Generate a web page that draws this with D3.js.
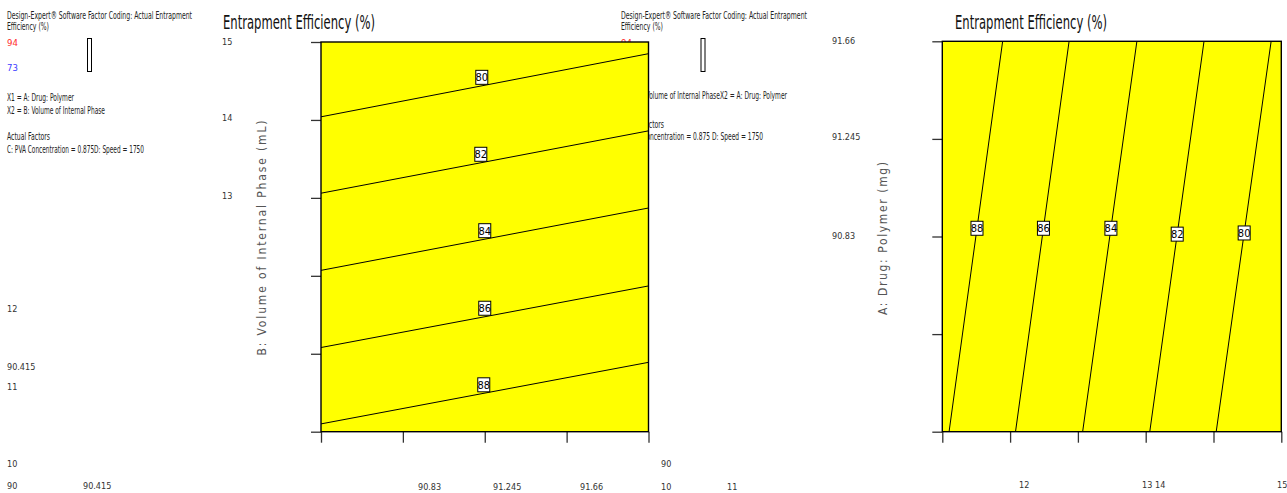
<!DOCTYPE html>
<html>
<head>
<meta charset="utf-8">
<script src="https://cdn.jsdelivr.net/npm/d3@7"></script>
<style>
body { margin: 0; background: #fff; }
svg { display: block; }
text { font-family: "Liberation Sans Narrow", "Arial Narrow", "DejaVu Sans Condensed", sans-serif; }
</style>
</head>
<body>
<div id="chart"></div>
<script>
// contour levels of Entrapment Efficiency (%), each a straight line
const levels = [80, 82, 84, 86, 88];
const volAtDrugMin = [14.04, 13.06, 12.07, 11.08, 10.10];
const volAtDrugMax = [14.85, 13.86, 12.87, 11.87, 10.89];
const labelDrugLeft = [90.815, 90.81, 90.83, 90.83, 90.825];
const labelDrugRight = [90.845, 90.84, 90.865, 90.865, 90.865];

const drugRange = [90, 91.66];
const volRange = [10, 15];
const drugTicks = [90, 90.415, 90.83, 91.245, 91.66];
const volTicks = [10, 11, 12, 13, 14, 15];

const title = 'Entrapment  Efficiency (%)';
const volLabel = 'B: Volume of Internal Phase (mL)';
const drugLabel = 'A: Drug: Polymer (mg)';

// header text blocks (as the exported page prints them)
const blockLeft = [
    'Design-Expert® Software Factor Coding:  Actual  Entrapment',
    'Efficiency (%)',
    '94', '73',
    'X1 = A: Drug: Polymer',
    'X2 = B: Volume of Internal Phase',
    'Actual Factors',
    'C: PVA Concentration = 0.875D: Speed = 1750'
];
const blockRight = [
    'Design-Expert® Software Factor Coding:  Actual  Entrapment',
    'Efficiency (%)',
    '94', '73',
    'X1 = B: Volume of Internal PhaseX2 =  A: Drug: Polymer',
    'Actual Factors',
    'C: PVA Concentration = 0.875 D: Speed = 1750'
];
// stray tick labels as they land on the page
const strayLeft = ['15', '14', '13', '12', '90.415', '11', '10', '90', '90.415',
    '90.83', '91.245', '91.66', '90', '10', '11'];
const strayRight = ['91.66', '91.245', '90.83', '12', '13', '14', '15'];

// layout
const blockLeftPos = [[7, 19, 185], [7, 30, 42], [7, 46, 0], [7, 71, 0], [7, 101, 67], [7, 114, 98], [7, 140, 43], [7, 153, 137]];
const blockRightPos = [[621, 19, 186], [621, 30, 42], [621, 46, 0], [621, 71, 0], [621, 99, 166], [621, 128, 43], [621, 140, 142]];
const strayLeftPos = [[222, 45], [222, 121], [222, 199], [7, 312], [7, 370], [7, 390], [7, 467], [7, 489], [83, 489],
    [418, 490], [493, 490], [580, 490], [661, 467], [661, 490], [727, 490]];
const strayRightPos = [[832, 44], [832, 140], [832, 239], [1019, 488], [1142, 488], [1155, 488], [1277, 488]];

const W = 1287, H = 493;
const svg = d3.select('#chart').append('svg').attr('width', W).attr('height', H);

function txt(g, s, x, y, size, w, color) {
    let t = g.append('text').attr('x', x).attr('y', y)
        .attr('font-size', size).attr('fill', color || '#222').text(s);
    if (w) t.attr('textLength', w).attr('lengthAdjust', 'spacingAndGlyphs');
    return t;
}

function drawBlock(items, pos, rectX) {
    let g = svg.append('g');
    items.forEach((s, i) => {
        let color = s === '94' ? '#ff2b2b' : (s === '73' ? '#3b3bff' : '#222');
        txt(g, s, pos[i][0], pos[i][1], s.length < 3 ? 9.5 : 10.5, pos[i][2], color);
    });
    g.append('rect').attr('x', rectX).attr('y', 38.5).attr('width', 4).attr('height', 33)
        .attr('fill', '#fff').attr('stroke', '#000').attr('stroke-width', 1);
}
drawBlock(blockLeft, blockLeftPos, 87.5);
drawBlock(blockRight, blockRightPos, 701);

let stray = svg.append('g').attr('class', 'stray');
strayLeft.forEach((s, i) => txt(stray, s, strayLeftPos[i][0], strayLeftPos[i][1], 9, 0, '#333'));
strayRight.forEach((s, i) => txt(stray, s, strayRightPos[i][0], strayRightPos[i][1], 9, 0, '#333'));

function contourPlot(opts) {
    let x = opts.x, y = opts.y;
    let g = svg.append('g');
    let x0 = x.range()[0], x1 = x.range()[1], y0 = y.range()[1], y1 = y.range()[0];

    g.append('rect').attr('x', x0).attr('y', y0).attr('width', x1 - x0).attr('height', y1 - y0)
        .attr('fill', '#ffff00');

    g.append('g').attr('transform', 'translate(0,' + y1 + ')')
        .call(d3.axisBottom(x).tickValues(opts.xTicks).tickSize(11).tickFormat(''))
        .call(a => a.select('.domain').remove())
        .selectAll('line').attr('stroke', '#333').attr('stroke-width', 1.3);
    g.append('g').attr('transform', 'translate(' + x0 + ',0)')
        .call(d3.axisLeft(y).tickValues(opts.yTicks).tickSize(10).tickFormat(''))
        .call(a => a.select('.domain').remove())
        .selectAll('line').attr('stroke', '#333').attr('stroke-width', 1.3);

    let line = d3.line().x(d => x(d[0])).y(d => y(d[1]));
    g.append('g').selectAll('path').data(levels).join('path')
        .attr('d', (d, i) => line(opts.pts(i)))
        .attr('fill', 'none').attr('stroke', '#000').attr('stroke-width', 1);

    g.append('rect').attr('x', x0).attr('y', y0).attr('width', x1 - x0).attr('height', y1 - y0)
        .attr('fill', 'none').attr('stroke', '#000').attr('stroke-width', 1.4);

    let lab = g.append('g').selectAll('g').data(levels).join('g')
        .attr('transform', (d, i) => {
            let p = opts.labelAt(i);
            return 'translate(' + x(p[0]) + ',' + (y(p[1]) + opts.labelDy) + ')';
        });
    lab.append('rect').attr('x', -6).attr('y', -7).attr('width', 12).attr('height', 14)
        .attr('fill', '#fff').attr('stroke', '#000').attr('stroke-width', 1);
    lab.append('text').attr('text-anchor', 'middle').attr('y', 4).attr('font-size', 11)
        .attr('fill', '#000').text(d => d);

    txt(g, title, opts.titleX, 29, 19, 152, '#111');

    g.append('text')
        .attr('transform', 'translate(' + opts.axX + ',' + opts.axY + ') rotate(-90)')
        .attr('text-anchor', 'middle').attr('font-size', 12).attr('fill', '#555')
        .attr('textLength', opts.axW).attr('lengthAdjust', 'spacing')
        .text(opts.axText);
}

function volAt(i, drug) {
    let t = (drug - drugRange[0]) / (drugRange[1] - drugRange[0]);
    return volAtDrugMin[i] + t * (volAtDrugMax[i] - volAtDrugMin[i]);
}

// left: x = drug ratio, y = volume
contourPlot({
    x: d3.scaleLinear().domain(drugRange).range([321, 648.5]),
    y: d3.scaleLinear().domain(volRange).range([431.7, 42]),
    xTicks: drugTicks, yTicks: volTicks,
    pts: i => [[drugRange[0], volAtDrugMin[i]], [drugRange[1], volAtDrugMax[i]]],
    labelAt: i => [labelDrugLeft[i], volAt(i, labelDrugLeft[i])],
    labelDy: -8.5,
    titleX: 223, axX: 266, axY: 238, axW: 235, axText: volLabel
});

// right: x = volume, y = drug ratio
contourPlot({
    x: d3.scaleLinear().domain(volRange).range([942.3, 1281.3]),
    y: d3.scaleLinear().domain(drugRange).range([431.7, 41.3]),
    xTicks: volTicks, yTicks: drugTicks,
    pts: i => [[volAtDrugMin[i], drugRange[0]], [volAtDrugMax[i], drugRange[1]]],
    labelAt: i => [volAt(i, labelDrugRight[i]), labelDrugRight[i]],
    labelDy: 0,
    titleX: 955, axX: 887, axY: 238.5, axW: 153, axText: drugLabel
});
</script>
</body>
</html>
